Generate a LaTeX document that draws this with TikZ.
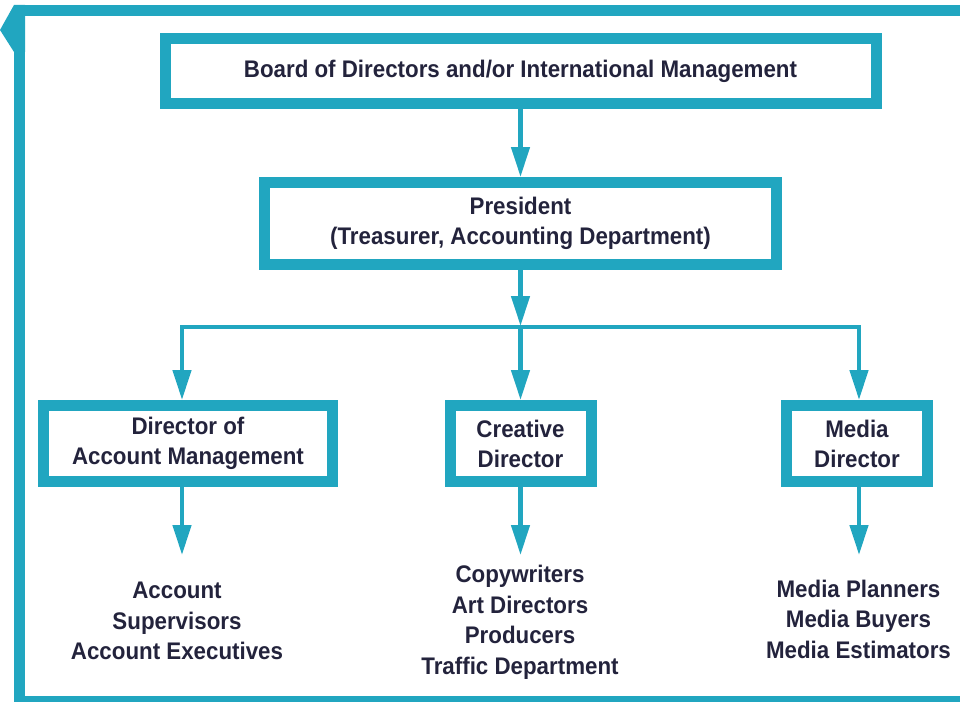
\documentclass[tikz,border=0pt]{standalone}
\usepackage{fontspec}
\setmainfont{Liberation Sans}[FakeStretch=0.93]
\usetikzlibrary{arrows.meta}
\definecolor{teal1}{RGB}{33,166,192}
\definecolor{ink}{RGB}{35,35,60}
\begin{document}
\begin{tikzpicture}[x=1pt,y=-1pt,
  box/.style={draw=teal1, line width=11pt, inner sep=0pt, align=center, text=ink,
    font=\bfseries\fontsize{24}{30}\selectfont},
  lst/.style={align=center, text=ink, inner sep=0pt, font=\bfseries\fontsize{24}{30.5}\selectfont},
  conn/.style={draw=teal1, line width=4.5pt, line join=miter},
  arr/.style={conn, -{Triangle[width=18pt,length=30pt]}},
  darr/.style={conn, {Triangle[width=18pt,length=30pt]}-{Triangle[width=18pt,length=30pt]}}
]
\path[use as bounding box] (0,0) rectangle (960,701);
\begin{scope}
  \clip (0,0) rectangle (960,701);
  \draw[teal1, line width=11pt, line join=miter] (975,10.5) -- (19.5,10.5) -- (19.5,701) -- (975,701);
  \fill[teal1] (25,5) -- (14,5) -- (0,30) -- (14,52) -- (25,52) -- cycle;
\end{scope}

\node[box, minimum width=711pt, minimum height=65pt] (board) at (520.5,71) {\raisebox{-2pt}{Board of Directors and/or International Management}};
\node[box, minimum width=512pt, minimum height=82pt] (pres) at (520.5,223.5) {President\\(Treasurer, Accounting Department)};
\node[box, minimum width=289pt, minimum height=76pt] (acct) at (188,443.5) {\raisebox{-3pt}{Director of}\\\raisebox{-3pt}{Account Management}};
\node[box, minimum width=141pt, minimum height=76pt] (crea) at (520.5,443.5) {Creative\\Director};
\node[box, minimum width=141pt, minimum height=76pt] (med) at (857,443.5) {Media\\Director};

\node[lst] (la) at (177,621) {Account\\Supervisors\\Account Executives};
\node[lst] (lc) at (520,622.5) {Copywriters\\Art Directors\\Producers\\Traffic Department};
\node[lst] (lm) at (858.5,619) {Media Planners\\Media Buyers\\Media Estimators};

\coordinate (j) at (520.5,327);
\coordinate (jt) at (520.5,326);
\coordinate (jl) at (182,327);
\coordinate (jr) at (859,327);
\coordinate (ta) at (182,555);
\coordinate (tc) at (520.5,555);
\coordinate (tm) at (859,555);

\draw[arr] (board.south) -- (pres.north);
\draw[arr] (pres.south) -- (jt);
\draw[darr] (jl |- acct.north) -- (jl) -- (jr) -- (jr |- med.north);
\draw[arr] (j) -- (crea.north);
\draw[arr] (acct.south -| ta) -- (ta);
\draw[arr] (crea.south) -- (tc);
\draw[arr] (med.south -| tm) -- (tm);
\end{tikzpicture}
\end{document}
